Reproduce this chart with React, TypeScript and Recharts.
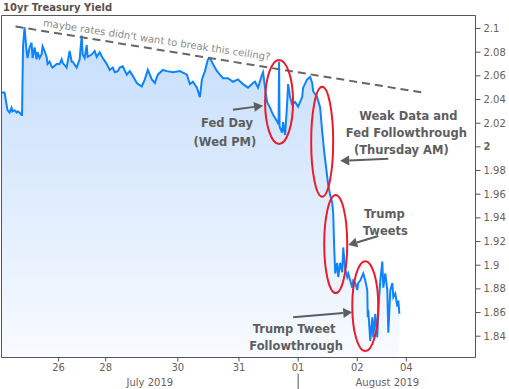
import {
  ComposedChart,
  Area,
  XAxis,
  YAxis,
  ReferenceArea,
  ReferenceLine,
  ReferenceDot,
} from "recharts";

// x = trading hours since the start of the window, y = 10yr yield (%)
const HOURS = [
  0, 1.2, 2.4, 3.2, 4.0, 4.4, 5.2, 6.0, 6.4, 7.2, 8.0, 8.2, 8.4, 8.6, 9.2, 10.0, 10.4,
  11.2, 12.0, 12.4, 13.2, 14.0, 14.4, 15.2, 16.0, 16.4, 17.2, 18.0, 18.4, 19.2, 20.0,
  20.4, 22.0, 23.2, 24.0, 24.4, 26.0, 27.2, 28.0, 28.4, 30.0, 31.2, 32.0, 32.4, 33.2,
  34.0, 34.4, 36.0, 37.2, 38.0, 39.2, 40.4, 42.0, 43.2, 44.4, 45.2, 46.4, 47.2, 48.4,
  50.0, 51.2, 52.4, 54.0, 56.0, 57.2, 58.4, 60.0, 61.2, 62.4, 64.4, 66.0, 68.4, 71.2,
  74.0, 75.2, 76.4, 78.0, 79.2, 80.0, 81.2, 82.4, 83.2, 84.4, 86.0, 87.2, 88.4, 90.4,
  92.4, 94.4, 96.4, 98.4, 100.4, 101.2, 102.4, 104.0, 104.4, 105.2, 106.0, 107.2, 108.4,
  109.6, 110.6, 110.8, 111.0, 112.0, 112.4, 113.2, 114.0, 114.4, 115.2, 116.0, 117.2,
  118.4, 120.0, 120.4, 122.0, 123.2, 124.0, 124.4, 126.0, 127.2, 128.0, 128.8, 129.6,
  130.4, 131.2, 132.0, 132.4, 132.8, 133.2, 134.0, 134.4, 135.2, 136.0, 136.4, 137.2,
  138.0, 138.4, 139.2, 140.0, 140.4, 141.2, 142.0, 142.4, 143.2, 144.4, 145.2, 146.0,
  146.2, 146.4, 147.2, 148.0, 148.4, 149.2, 150.0, 150.4, 151.2, 152.0, 152.4, 153.2,
  154.0, 154.4, 155.2, 156.0, 156.4, 157.2, 158.0, 158.4, 158.8,
];

const YIELDS = [
  2.046, 2.046, 2.031, 2.029, 2.033, 2.030, 2.031, 2.029, 2.030, 2.029, 2.027, 2.027,
  2.059, 2.085, 2.101, 2.081, 2.075, 2.084, 2.088, 2.075, 2.084, 2.074, 2.080, 2.075,
  2.078, 2.085, 2.081, 2.076, 2.070, 2.072, 2.068, 2.067, 2.070, 2.070, 2.074, 2.071,
  2.067, 2.081, 2.072, 2.072, 2.067, 2.074, 2.094, 2.078, 2.075, 2.086, 2.076, 2.078,
  2.081, 2.076, 2.080, 2.075, 2.070, 2.065, 2.067, 2.063, 2.064, 2.067, 2.068, 2.061,
  2.064, 2.060, 2.054, 2.051, 2.057, 2.065, 2.057, 2.054, 2.061, 2.065, 2.064, 2.063,
  2.064, 2.061, 2.053, 2.055, 2.050, 2.042, 2.057, 2.064, 2.074, 2.075, 2.070, 2.064,
  2.061, 2.058, 2.058, 2.055, 2.057, 2.053, 2.050, 2.054, 2.055, 2.050, 2.061, 2.063,
  2.050, 2.038, 2.033, 2.027, 2.023, 2.019, 2.072, 2.017, 2.012, 2.021, 2.010, 2.036,
  2.053, 2.042, 2.036, 2.038, 2.034, 2.042, 2.050, 2.057, 2.059, 2.054, 2.047, 2.042,
  2.033, 2.013, 1.996, 1.982, 1.968, 1.959, 1.953, 1.944, 1.915, 1.893, 1.902, 1.890,
  1.902, 1.894, 1.915, 1.896, 1.890, 1.893, 1.887, 1.881, 1.887, 1.885, 1.879, 1.885,
  1.887, 1.893, 1.887, 1.879, 1.856, 1.862, 1.836, 1.856, 1.839, 1.859, 1.839, 1.862,
  1.887, 1.903, 1.881, 1.893, 1.879, 1.843, 1.879, 1.885, 1.873, 1.876, 1.865, 1.870,
  1.859,
];

const X_TICKS = [22.8, 41.6, 70.4, 94.8, 118.4, 142, 161.6];
const X_LABELS = ["26", "28", "30", "31", "01", "02", "04"];
const MONTH_TICKS = [59.2, 118.4, 154];
const MONTH_LABELS = ["July 2019", "", "August 2019"];
const Y_TICKS = [
  1.84, 1.86, 1.88, 1.9, 1.92, 1.94, 1.96, 1.98, 2, 2.02, 2.04, 2.06, 2.08, 2.1,
];

const X_DOMAIN: [number, number] = [0, 189.2];
const Y_DOMAIN: [number, number] = [1.822, 2.111];

const data = HOURS.map((h, i) => ({ h, y: YIELDS[i] }));

// annotations, in chart units
const CEILING = { from: { x: 5.6, y: 2.1017 }, to: { x: 168.4, y: 2.0458 } };
const CEILING_TEXT = { x: 62, y: 2.0905, text: "maybe rates didn't want to break this ceiling?" };

const CIRCLES = [
  { x: 110.8, y: 2.038, rx: 14, ry: 42 },
  { x: 128, y: 2.0043, rx: 11, ry: 55 },
  { x: 133.4, y: 1.9179, rx: 11.5, ry: 49 },
  { x: 145.2, y: 1.8654, rx: 13, ry: 45 },
];

const ARROWS = [
  { x1: 92.4, y1: 2.0314, x2: 104.4, y2: 2.0348 },
  { x1: 154.4, y1: 1.9899, x2: 135.2, y2: 1.9882 },
  { x1: 150.4, y1: 1.9247, x2: 138.4, y2: 1.917 },
  { x1: 116.4, y1: 1.8561, x2: 140, y2: 1.8603 },
];

const NOTES = [
  { x: 90, y: 2.0204, text: "Fed Day" },
  { x: 89.2, y: 2.0043, text: "(Wed PM)" },
  { x: 162.4, y: 2.0263, text: "Weak Data and" },
  { x: 161.6, y: 2.0119, text: "Fed Followthrough" },
  { x: 159.6, y: 1.9975, text: "(Thursday AM)" },
  { x: 152.8, y: 1.9433, text: "Trump" },
  { x: 153.2, y: 1.9289, text: "Tweets" },
  { x: 116.8, y: 1.8459, text: "Trump Tweet" },
  { x: 117.6, y: 1.8315, text: "Followthrough" },
];

const FONT = "'DejaVu Sans', Verdana, sans-serif";
const TICK_COLOR = "#6b6058";
const FRAME = "#555555";
const NOTE_COLOR = "#5e5e5e";

const YTick = (props: any) => {
  const { x, y, payload } = props;
  return (
    <text
      x={x}
      y={y}
      dy="0.355em"
      textAnchor="start"
      fill={TICK_COLOR}
      fontSize={10}
      fontFamily={FONT}
      fontWeight={payload.value === 2 ? "bold" : "normal"}
    >
      {String(payload.value)}
    </text>
  );
};

const MonthTick = (props: any) => {
  const { x, y, payload } = props;
  const label = MONTH_LABELS[MONTH_TICKS.indexOf(payload.value)];
  if (!label) {
    return <line x1={x} x2={x} y1={y - 2} y2={y + 14} stroke={FRAME} strokeWidth={1} />;
  }
  return (
    <text x={x} y={y + 10.5} textAnchor="middle" fill={TICK_COLOR} fontSize={10} fontFamily={FONT}>
      {label}
    </text>
  );
};

const Arrow = (props: any) => {
  const { x1, y1, x2, y2 } = props;
  const a = Math.atan2(y2 - y1, x2 - x1);
  const len = 9;
  const w = 5;
  const bx = x2 - len * Math.cos(a);
  const by = y2 - len * Math.sin(a);
  const px = -Math.sin(a) * w;
  const py = Math.cos(a) * w;
  return (
    <g>
      <line x1={x1} y1={y1} x2={bx} y2={by} stroke={NOTE_COLOR} strokeWidth={2} />
      <polygon points={`${x2},${y2} ${bx + px},${by + py} ${bx - px},${by - py}`} fill={NOTE_COLOR} />
    </g>
  );
};

export default function App() {
  return (
    <div style={{ position: "relative", width: 509, height: 389, background: "#fff" }}>
      <style>{`body{margin:0}`}</style>
      <div
        style={{
          position: "absolute",
          left: 3,
          top: 1,
          fontFamily: FONT,
          fontWeight: "bold",
          fontSize: 10,
          color: "#5b5049",
          lineHeight: "13px",
        }}
      >
        10yr Treasury Yield
      </div>
      <ComposedChart
        width={509}
        height={389}
        data={data}
        margin={{ top: 15.5, right: 0, bottom: 0, left: 1.5 }}
      >
        <defs>
          <linearGradient id="yieldFill" x1="0" y1="0" x2="0" y2="1">
            <stop offset="0%" stopColor="#c4ddfb" />
            <stop offset="100%" stopColor="#f8fbff" />
          </linearGradient>
        </defs>
        <XAxis
          dataKey="h"
          type="number"
          domain={X_DOMAIN}
          ticks={X_TICKS}
          tickFormatter={(v) => X_LABELS[X_TICKS.indexOf(v)] ?? ""}
          axisLine={false}
          tickSize={4}
          tickMargin={2}
          tickLine={{ stroke: FRAME }}
          tick={{ fill: TICK_COLOR, fontSize: 10, fontFamily: FONT }}
          height={18}
          allowDataOverflow
        />
        <XAxis
          xAxisId="month"
          dataKey="h"
          type="number"
          domain={X_DOMAIN}
          ticks={MONTH_TICKS}
          axisLine={false}
          tickLine={false}
          tickSize={0}
          tickMargin={0}
          tick={<MonthTick />}
          height={13.5}
          allowDataOverflow
        />
        <YAxis
          orientation="right"
          type="number"
          domain={Y_DOMAIN}
          ticks={Y_TICKS}
          axisLine={false}
          tickSize={5}
          tickMargin={3}
          tickLine={{ stroke: FRAME }}
          tick={<YTick />}
          width={33.5}
          allowDataOverflow
        />
        <Area
          type="linear"
          dataKey="y"
          stroke="#0f84fa"
          strokeWidth={2}
          fill="url(#yieldFill)"
          fillOpacity={1}
          dot={false}
          activeDot={false}
          isAnimationActive={false}
        />
        <ReferenceArea
          x1={X_DOMAIN[0]}
          x2={X_DOMAIN[1]}
          y1={Y_DOMAIN[0]}
          y2={Y_DOMAIN[1]}
          fill="none"
          stroke={FRAME}
          strokeWidth={1}
          ifOverflow="visible"
        />
        <ReferenceLine
          segment={[CEILING.from, CEILING.to]}
          stroke="#666"
          strokeWidth={2}
          strokeDasharray="8 5"
          ifOverflow="visible"
        />
        <ReferenceDot
          x={CEILING_TEXT.x}
          y={CEILING_TEXT.y}
          ifOverflow="visible"
          shape={(p: any) => (
            <text
              x={p.cx}
              y={p.cy}
              textAnchor="middle"
              dominantBaseline="central"
              transform={`rotate(8.6 ${p.cx} ${p.cy})`}
              fill="#8a8a8a"
              fontSize={10}
              fontFamily={FONT}
            >
              {CEILING_TEXT.text}
            </text>
          )}
        />
        {CIRCLES.map((c, i) => (
          <ReferenceDot
            key={`c${i}`}
            x={c.x}
            y={c.y}
            ifOverflow="visible"
            shape={(p: any) => (
              <ellipse cx={p.cx} cy={p.cy} rx={c.rx} ry={c.ry} fill="none" stroke="#ec1b2b" strokeWidth={2} />
            )}
          />
        ))}
        {ARROWS.map((a, i) => (
          <ReferenceLine
            key={`a${i}`}
            segment={[
              { x: a.x1, y: a.y1 },
              { x: a.x2, y: a.y2 },
            ]}
            ifOverflow="visible"
            shape={<Arrow />}
          />
        ))}
        {NOTES.map((n, i) => (
          <ReferenceDot
            key={`n${i}`}
            x={n.x}
            y={n.y}
            ifOverflow="visible"
            shape={(p: any) => (
              <text
                x={p.cx}
                y={p.cy}
                textAnchor="middle"
                dominantBaseline="central"
                fill={NOTE_COLOR}
                fontSize={11.5}
                fontWeight="bold"
                fontFamily={FONT}
              >
                {n.text}
              </text>
            )}
          />
        ))}
      </ComposedChart>
    </div>
  );
}
